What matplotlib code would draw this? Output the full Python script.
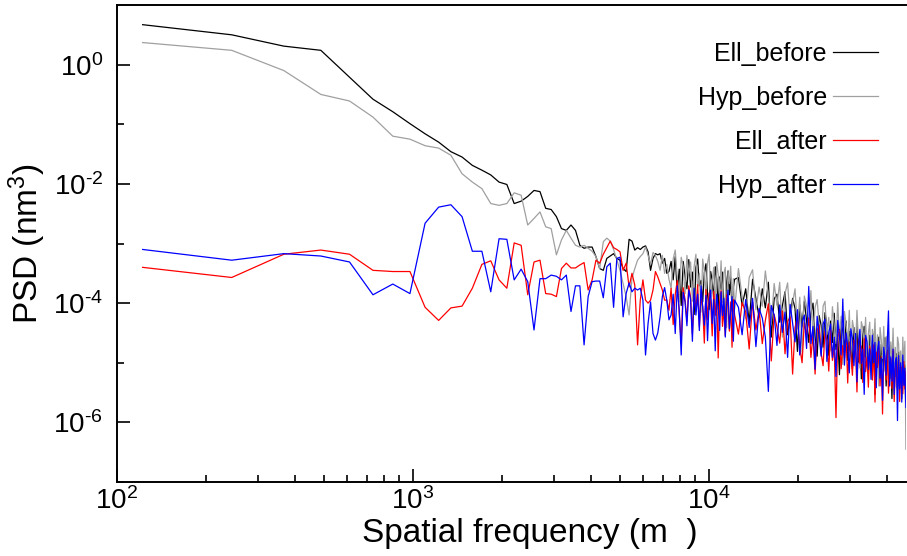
import numpy as np
import matplotlib
matplotlib.use("Agg")
import matplotlib.pyplot as plt
from matplotlib.ticker import FixedLocator, FixedFormatter, NullFormatter, LogLocator

plt.rcParams['font.family'] = ['Liberation Sans', 'DejaVu Sans']
plt.rcParams['mathtext.fontset'] = 'custom'
plt.rcParams['mathtext.rm'] = 'Liberation Sans'
plt.rcParams['mathtext.it'] = 'Liberation Sans'
plt.rcParams['mathtext.default'] = 'regular'

# ---------------- data ----------------
freq_step = 122.07  # m^-1, spacing of the spectral samples
harmonic = list(range(1, 101)) + list(range(103, 380, 3))

ell_before_log = [
    0.67, 0.50, 0.31, 0.24, -0.21, -0.58, -0.79, -0.99, -1.16, -1.30,
    -1.46, -1.55, -1.69, -1.77, -1.85, -1.97, -2.01, -2.33, -2.29, -2.21,
    -2.11, -2.13, -2.41, -2.43, -2.55, -2.75, -2.78, -2.69, -2.78, -3.03,
    -3.08, -3.06, -3.06, -3.22, -3.42, -3.45, -3.25, -3.21, -3.17, -3.25,
    -3.28, -3.42, -3.47, -2.93, -2.96, -3.11, -3.07, -3.10, -3.06, -3.04,
    -3.14, -3.45, -3.25, -3.17, -3.19, -3.17, -3.33, -3.25, -3.50, -3.47,
    -3.30, -3.61, -3.22, -3.82, -3.43, -4.04, -3.30, -3.55, -3.76, -3.27,
    -3.73, -3.48, -4.19, -3.40, -3.26, -3.71, -3.62, -3.98, -3.49, -3.34,
    -3.85, -4.11, -3.47, -3.62, -3.93, -3.39, -3.60, -4.10, -3.56, -3.77,
    -3.48, -4.03, -4.44, -3.65, -3.46, -3.86, -3.57, -4.13, -3.74, -3.60,
    -3.57, -4.04, -3.76, -4.33, -3.60, -3.92, -4.24, -3.76, -4.08, -3.65,
    -4.57, -3.93, -3.85, -4.32, -4.04, -3.81, -4.53, -4.25, -3.92, -4.09,
    -4.81, -4.03, -4.40, -3.97, -4.29, -4.66, -4.18, -4.00, -4.57, -4.89,
    -4.21, -4.37, -4.74,
    -4.16, -4.37, -4.88, -4.30, -4.66, -4.17, -4.78, -4.54, -5.20, -4.32,
    -4.48, -4.79, -4.30, -4.96, -4.47, -4.59, -5.10, -4.41, -4.77, -4.38,
    -4.99, -4.61, -5.27, -4.53, -4.39, -4.90, -4.76, -5.18, -4.54, -4.70,
    -5.06, -4.52, -5.53, -4.70, -4.91, -4.57, -5.23, -4.69, -4.90, -5.12,
    -4.58, -5.39, -4.85, -4.71, -5.27, -4.94, -5.60, -4.71, -4.92, -5.23,
    -4.85, -5.46, -4.82, -5.18, -4.94, -5.60, -4.82, -5.33, -5.04, -5.90,
]

hyp_before_log = [
    0.37, 0.24, -0.10, -0.50, -0.61, -0.88, -1.20, -1.25, -1.36, -1.40,
    -1.52, -1.83, -1.97, -2.08, -2.33, -2.36, -2.33, -2.15, -2.19, -2.69,
    -2.58, -2.47, -2.72, -2.75, -3.19, -2.94, -2.78, -2.91, -3.03, -3.06,
    -3.03, -3.08, -3.13, -3.22, -3.42, -2.97, -2.91, -2.96, -3.10, -3.28,
    -3.45, -3.67, -3.89, -4.20, -3.58, -3.42, -3.28, -3.22, -3.17, -3.06,
    -3.20, -3.35, -3.15, -3.20, -3.30, -3.45, -3.20, -3.50, -3.35, -3.60,
    -3.75, -3.26, -3.11, -3.57, -3.98, -3.23, -3.39, -3.84, -3.20, -3.51,
    -3.31, -3.97, -3.38, -3.18, -3.74, -3.50, -4.15, -3.26, -3.47, -3.82,
    -3.33, -3.18, -3.89, -3.65, -3.40, -4.11, -3.32, -3.52, -3.83, -3.29,
    -3.99, -3.50, -3.40, -4.41, -3.47, -3.67, -3.38, -3.94, -3.59, -4.10,
    -3.42, -3.89, -4.26, -3.57, -3.44, -4.11, -3.73, -4.05, -3.46, -3.88,
    -4.35, -3.67, -4.04, -3.65, -4.57, -3.84, -3.66, -4.28, -3.99, -3.76,
    -4.43, -3.90, -4.82, -3.88, -4.05, -4.37, -3.79, -4.61, -4.07, -3.94,
    -4.36, -4.78, -4.05,
    -3.97, -4.53, -4.24, -4.80, -4.06, -4.37, -4.68, -3.99, -4.56, -4.22,
    -5.03, -4.14, -4.35, -4.71, -4.12, -4.88, -4.29, -4.45, -4.81, -4.12,
    -4.63, -5.09, -4.31, -4.42, -4.78, -4.24, -4.95, -4.51, -4.32, -5.13,
    -4.44, -4.70, -4.26, -4.97, -4.53, -5.39, -4.41, -4.62, -4.93, -4.39,
    -5.15, -4.56, -4.77, -4.48, -5.24, -4.65, -4.96, -4.42, -5.13, -4.74,
    -5.41, -4.57, -4.68, -5.14, -4.80, -5.31, -4.57, -5.03, -4.64, -6.45,
]

ell_after_log = [
    -3.40, -3.57, -3.18, -3.11, -3.18, -3.45, -3.47, -3.47, -4.07, -4.29,
    -4.08, -4.05, -3.75, -3.35, -3.29, -3.61, -3.75, -2.99, -3.03, -3.86,
    -3.31, -3.28, -3.84, -3.85, -3.89, -3.42, -3.33, -3.41, -3.41, -3.36,
    -3.32, -3.78, -3.61, -3.28, -3.33, -3.18, -3.07, -2.96, -3.07, -3.10,
    -3.14, -3.45, -3.33, -3.73, -3.50, -3.70, -4.70, -3.95, -3.61, -3.95,
    -4.00, -3.95, -3.78, -3.47, -3.56, -3.67, -3.78, -3.95, -3.95, -4.12,
    -3.75, -4.36, -3.86, -3.62, -4.18, -4.68, -3.74, -3.94, -4.30, -3.71,
    -3.91, -4.52, -3.83, -4.13, -3.69, -4.40, -3.90, -4.06, -4.67, -3.77,
    -4.28, -3.83, -3.99, -4.55, -3.80, -4.21, -3.92, -4.92, -3.98, -3.79,
    -4.39, -4.10, -4.55, -3.86, -4.07, -4.47, -3.98, -4.74, -3.94, -4.20,
    -4.52, -3.99, -4.15, -4.77, -3.98, -4.45, -4.11, -4.68, -4.29, -4.01,
    -4.97, -4.19, -4.40, -4.67, -4.13, -4.85, -4.31, -4.23, -5.19, -4.41,
    -4.22, -4.74, -5.00, -4.32, -4.53, -4.25, -4.91, -4.53, -5.19, -4.46,
    -4.37, -4.84, -5.05,
    -4.47, -4.63, -5.14, -4.45, -4.96, -4.72, -5.92, -4.58, -4.44, -5.10,
    -4.71, -4.92, -4.53, -5.34, -4.65, -4.86, -5.21, -4.62, -4.73, -5.49,
    -4.60, -5.01, -4.72, -5.33, -4.59, -5.15, -4.90, -5.41, -4.72, -4.88,
    -5.29, -4.70, -5.66, -4.82, -5.08, -4.74, -5.39, -4.90, -5.86, -4.82,
    -4.98, -5.29, -4.80, -5.51, -5.02, -4.93, -5.43, -4.79, -5.65, -5.11,
    -4.97, -5.43, -4.89, -5.65, -5.11, -5.07, -5.52, -4.98, -5.44, -5.15,
]

hyp_after_log = [
    -3.10, -3.28, -3.17, -3.21, -3.31, -3.86, -3.68, -3.84, -2.66, -2.39,
    -2.35, -2.55, -3.13, -3.13, -3.81, -2.92, -2.93, -3.61, -3.43, -3.64,
    -4.45, -3.59, -3.59, -3.53, -3.55, -3.61, -3.53, -4.14, -3.71, -3.71,
    -4.70, -3.89, -3.64, -3.63, -3.63, -3.91, -3.39, -3.33, -4.07, -3.25,
    -3.23, -4.23, -3.84, -3.66, -3.81, -3.75, -3.78, -3.75, -3.95, -4.87,
    -4.34, -3.98, -4.51, -4.62, -4.50, -4.23, -3.89, -3.74, -3.95, -4.28,
    -4.20, -3.85, -4.51, -3.71, -4.12, -4.87, -3.82, -3.98, -4.38, -3.78,
    -3.94, -4.64, -3.75, -4.20, -3.85, -4.46, -3.71, -4.06, -4.37, -3.87,
    -4.63, -3.98, -3.78, -4.34, -3.94, -4.80, -3.85, -4.05, -4.46, -3.81,
    -4.21, -3.92, -4.57, -4.03, -3.78, -4.43, -4.14, -3.89, -4.64, -3.95,
    -4.07, -4.53, -3.94, -4.41, -3.92, -4.73, -4.09, -4.25, -4.57, -5.48,
    -4.04, -4.20, -4.71, -4.03, -4.49, -4.15, -4.91, -4.02, -4.34, -4.65,
    -4.11, -4.87, -4.33, -4.20, -4.76, -3.72, -4.68, -4.39, -5.11, -4.22,
    -4.53, -4.89, -4.35,
    -4.27, -4.98, -4.49, -4.35, -4.91, -4.57, -5.23, -4.29, -4.56, -4.87,
    -3.93, -5.04, -4.50, -4.71, -5.17, -4.43, -4.59, -5.05, -4.51, -5.32,
    -4.68, -4.44, -5.01, -4.77, -5.53, -4.54, -4.65, -5.11, -4.77, -5.28,
    -4.54, -5.00, -4.66, -5.42, -4.78, -4.64, -5.26, -4.92, -5.63, -4.74,
    -4.90, -5.21, -4.62, -4.13, -5.39, -4.90, -5.31, -4.77, -5.53, -4.99,
    -4.91, -5.97, -4.88, -5.44, -5.00, -5.66, -4.87, -5.38, -5.09, -5.75,
]

series_names = ["Ell_before", "Hyp_before", "Ell_after", "Hyp_after"]
series_colors = ["#000000", "#a0a0a0", "#ff0000", "#0000ff"]

y_major = [1e-6, 1e-4, 1e-2, 1e0]
y_major_labels = [r"$10^{\text{-}6}$", r"$10^{\text{-}4}$", r"$10^{\text{-}2}$", r"$10^{0}$"]
y_minor = [1e-7, 1e-5, 1e-3, 1e-1]
x_major = [1e2, 1e3, 1e4]
x_major_labels = [r"$10^{2}$", r"$10^{3}$", r"$10^{4}$"]

# ---------------- plot ----------------
W, H = 907, 556
fig = plt.figure(figsize=(W / 100, H / 100), dpi=100)
ax = fig.add_axes([117 / W, 1 - 482 / H, (906 - 117) / W, (482 - 5) / H])

freq = freq_step * np.array(harmonic, dtype=float)
for name, col, vals in zip(series_names, series_colors,
                           [ell_before_log, hyp_before_log, ell_after_log, hyp_after_log]):
    ax.plot(freq, 10.0 ** np.array(vals), color=col, lw=0.9, label=name)

ax.set_xscale("log")
ax.set_yscale("log")
ax.set_xlim(100, 46300)
ax.set_ylim(1e-7, 10)

ax.xaxis.set_major_locator(FixedLocator(x_major))
ax.xaxis.set_major_formatter(FixedFormatter(x_major_labels))
ax.xaxis.set_minor_locator(LogLocator(base=10, subs=np.arange(2, 10)))
ax.xaxis.set_minor_formatter(NullFormatter())
ax.yaxis.set_major_locator(FixedLocator(y_major))
ax.yaxis.set_major_formatter(FixedFormatter(y_major_labels))
ax.yaxis.set_minor_locator(FixedLocator(y_minor))
ax.yaxis.set_minor_formatter(NullFormatter())

ax.tick_params(which="both", direction="in", width=1.2, labelsize=20, top=False, right=False)
ax.tick_params(which="major", length=9.5)
ax.tick_params(which="minor", length=5)
ax.tick_params(axis="y", pad=10)
ax.tick_params(axis="x", pad=4)

for side in ["left", "bottom", "top"]:
    ax.spines[side].set_linewidth(1.4)
ax.spines["right"].set_visible(False)

ax.set_xlabel("Spatial frequency (m  )", fontsize=24)
ax.xaxis.set_label_coords((529.5 - 117) / (906 - 117), -0.075)
ax.set_ylabel("PSD (nm$^{3}$)", fontsize=24, labelpad=4)

leg = ax.legend(loc="upper right", bbox_to_anchor=(878 / W, 1 - 42 / H),
                bbox_transform=fig.transFigure, frameon=False, markerfirst=False,
                fontsize=18, handlelength=1.8, handletextpad=0.25,
                labelspacing=0.8, borderpad=0, borderaxespad=0)

fig.savefig("out.png", dpi=100)
